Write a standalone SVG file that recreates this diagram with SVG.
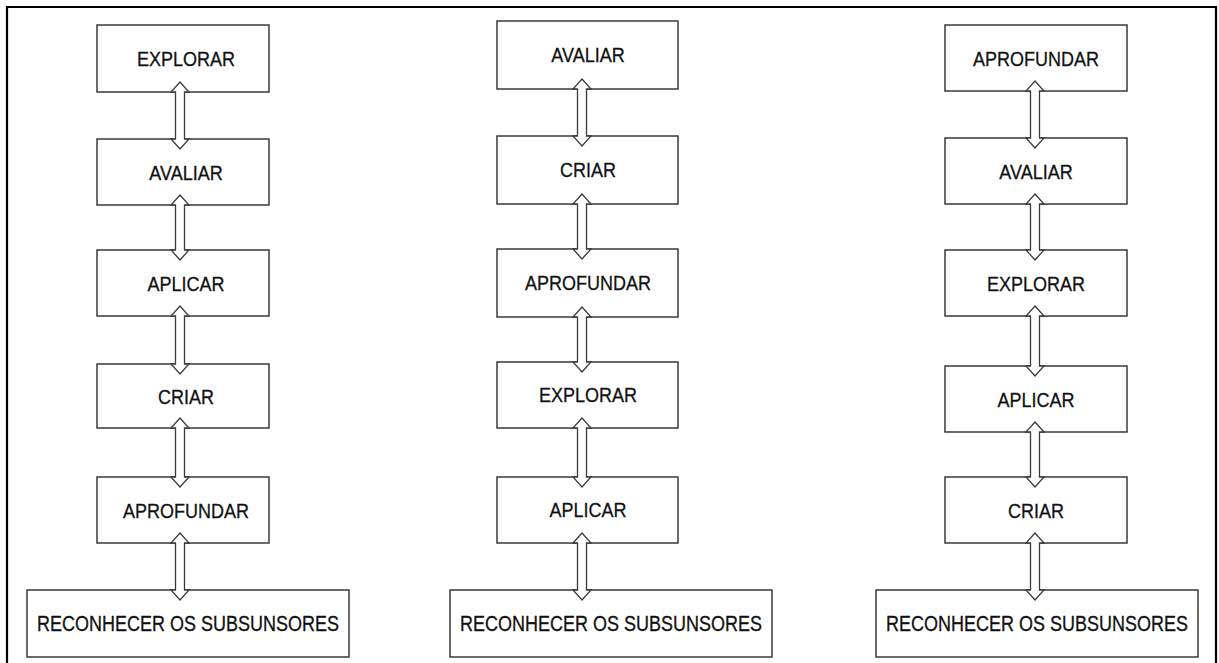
<svg xmlns="http://www.w3.org/2000/svg" width="1219" height="663" viewBox="0 0 1219 663">
<style>
.box{fill:#fff;stroke:#3a3a3a;stroke-width:1.5}
.lbl{font-family:"Liberation Sans",Arial,sans-serif;font-size:18px;fill:#111;stroke:#111;stroke-width:0.25;text-anchor:middle}
.arr{fill:#fff;stroke:#3a3a3a;stroke-width:1.3;stroke-linejoin:miter}
.frame{fill:none;stroke:#000;stroke-width:2.2}
</style>
<rect width="1219" height="663" fill="#fff"/>
<path class="frame" d="M7,663 V7 H1216 V663"/>

<g id="c1-explorar"><rect class="box" x="97" y="25" width="172" height="67"/><text class="lbl" transform="translate(186,66) scale(1,1.16)">EXPLORAR</text></g>
<g id="c1-avaliar"><rect class="box" x="97" y="139" width="172" height="66"/><text class="lbl" transform="translate(186,180) scale(1,1.16)">AVALIAR</text></g>
<g id="c1-aplicar"><rect class="box" x="97" y="250" width="172" height="66"/><text class="lbl" transform="translate(186,291) scale(1,1.16)">APLICAR</text></g>
<g id="c1-criar"><rect class="box" x="97" y="364" width="172" height="64"/><text class="lbl" transform="translate(186,404) scale(1,1.16)">CRIAR</text></g>
<g id="c1-aprofundar"><rect class="box" x="97" y="477" width="172" height="66"/><text class="lbl" transform="translate(186,518) scale(1,1.16)">APROFUNDAR</text></g>
<g id="c1-reconhecer"><rect class="box" x="27" y="590" width="322" height="67"/><text class="lbl" transform="translate(188,631) scale(1,1.18)">RECONHECER OS SUBSUNSORES</text></g>

<g id="c2-avaliar"><rect class="box" x="497" y="21" width="181" height="68"/><text class="lbl" transform="translate(588,62) scale(1,1.16)">AVALIAR</text></g>
<g id="c2-criar"><rect class="box" x="497" y="136" width="181" height="68"/><text class="lbl" transform="translate(588,177) scale(1,1.16)">CRIAR</text></g>
<g id="c2-aprofundar"><rect class="box" x="497" y="249" width="181" height="68"/><text class="lbl" transform="translate(588,290) scale(1,1.16)">APROFUNDAR</text></g>
<g id="c2-explorar"><rect class="box" x="497" y="362" width="181" height="66"/><text class="lbl" transform="translate(588,402) scale(1,1.16)">EXPLORAR</text></g>
<g id="c2-aplicar"><rect class="box" x="497" y="477" width="181" height="66"/><text class="lbl" transform="translate(588,517) scale(1,1.16)">APLICAR</text></g>
<g id="c2-reconhecer"><rect class="box" x="450" y="590" width="322" height="67"/><text class="lbl" transform="translate(611,631) scale(1,1.18)">RECONHECER OS SUBSUNSORES</text></g>

<g id="c3-aprofundar"><rect class="box" x="945" y="25" width="182" height="66"/><text class="lbl" transform="translate(1036,66) scale(1,1.16)">APROFUNDAR</text></g>
<g id="c3-avaliar"><rect class="box" x="945" y="138" width="182" height="66"/><text class="lbl" transform="translate(1036,179) scale(1,1.16)">AVALIAR</text></g>
<g id="c3-explorar"><rect class="box" x="945" y="250" width="182" height="66"/><text class="lbl" transform="translate(1036,291) scale(1,1.16)">EXPLORAR</text></g>
<g id="c3-aplicar"><rect class="box" x="945" y="366" width="182" height="66"/><text class="lbl" transform="translate(1036,407) scale(1,1.16)">APLICAR</text></g>
<g id="c3-criar"><rect class="box" x="945" y="477" width="182" height="66"/><text class="lbl" transform="translate(1036,518) scale(1,1.16)">CRIAR</text></g>
<g id="c3-reconhecer"><rect class="box" x="876" y="590" width="322" height="67"/><text class="lbl" transform="translate(1037,631) scale(1,1.18)">RECONHECER OS SUBSUNSORES</text></g>

<g id="connectors">
<path class="arr" d="M180,82 L189,92 L184.5,92 L184.5,139 L189,139 L180,149 L171,139 L175.5,139 L175.5,92 L171,92 Z"/>
<path class="arr" d="M180,195 L189,205 L184.5,205 L184.5,250 L189,250 L180,260 L171,250 L175.5,250 L175.5,205 L171,205 Z"/>
<path class="arr" d="M180,306 L189,316 L184.5,316 L184.5,364 L189,364 L180,374 L171,364 L175.5,364 L175.5,316 L171,316 Z"/>
<path class="arr" d="M180,418 L189,428 L184.5,428 L184.5,477 L189,477 L180,487 L171,477 L175.5,477 L175.5,428 L171,428 Z"/>
<path class="arr" d="M180,533 L189,543 L184.5,543 L184.5,590 L189,590 L180,600 L171,590 L175.5,590 L175.5,543 L171,543 Z"/>

<path class="arr" d="M582,79 L591,89 L586.5,89 L586.5,136 L591,136 L582,146 L573,136 L577.5,136 L577.5,89 L573,89 Z"/>
<path class="arr" d="M582,194 L591,204 L586.5,204 L586.5,249 L591,249 L582,259 L573,249 L577.5,249 L577.5,204 L573,204 Z"/>
<path class="arr" d="M582,307 L591,317 L586.5,317 L586.5,362 L591,362 L582,372 L573,362 L577.5,362 L577.5,317 L573,317 Z"/>
<path class="arr" d="M582,418 L591,428 L586.5,428 L586.5,477 L591,477 L582,487 L573,477 L577.5,477 L577.5,428 L573,428 Z"/>
<path class="arr" d="M582,533 L591,543 L586.5,543 L586.5,590 L591,590 L582,600 L573,590 L577.5,590 L577.5,543 L573,543 Z"/>

<path class="arr" d="M1035,81 L1044,91 L1039.5,91 L1039.5,138 L1044,138 L1035,148 L1026,138 L1030.5,138 L1030.5,91 L1026,91 Z"/>
<path class="arr" d="M1035,194 L1044,204 L1039.5,204 L1039.5,250 L1044,250 L1035,260 L1026,250 L1030.5,250 L1030.5,204 L1026,204 Z"/>
<path class="arr" d="M1035,306 L1044,316 L1039.5,316 L1039.5,366 L1044,366 L1035,376 L1026,366 L1030.5,366 L1030.5,316 L1026,316 Z"/>
<path class="arr" d="M1035,422 L1044,432 L1039.5,432 L1039.5,477 L1044,477 L1035,487 L1026,477 L1030.5,477 L1030.5,432 L1026,432 Z"/>
<path class="arr" d="M1035,533 L1044,543 L1039.5,543 L1039.5,590 L1044,590 L1035,600 L1026,590 L1030.5,590 L1030.5,543 L1026,543 Z"/>
</g>
</svg>
